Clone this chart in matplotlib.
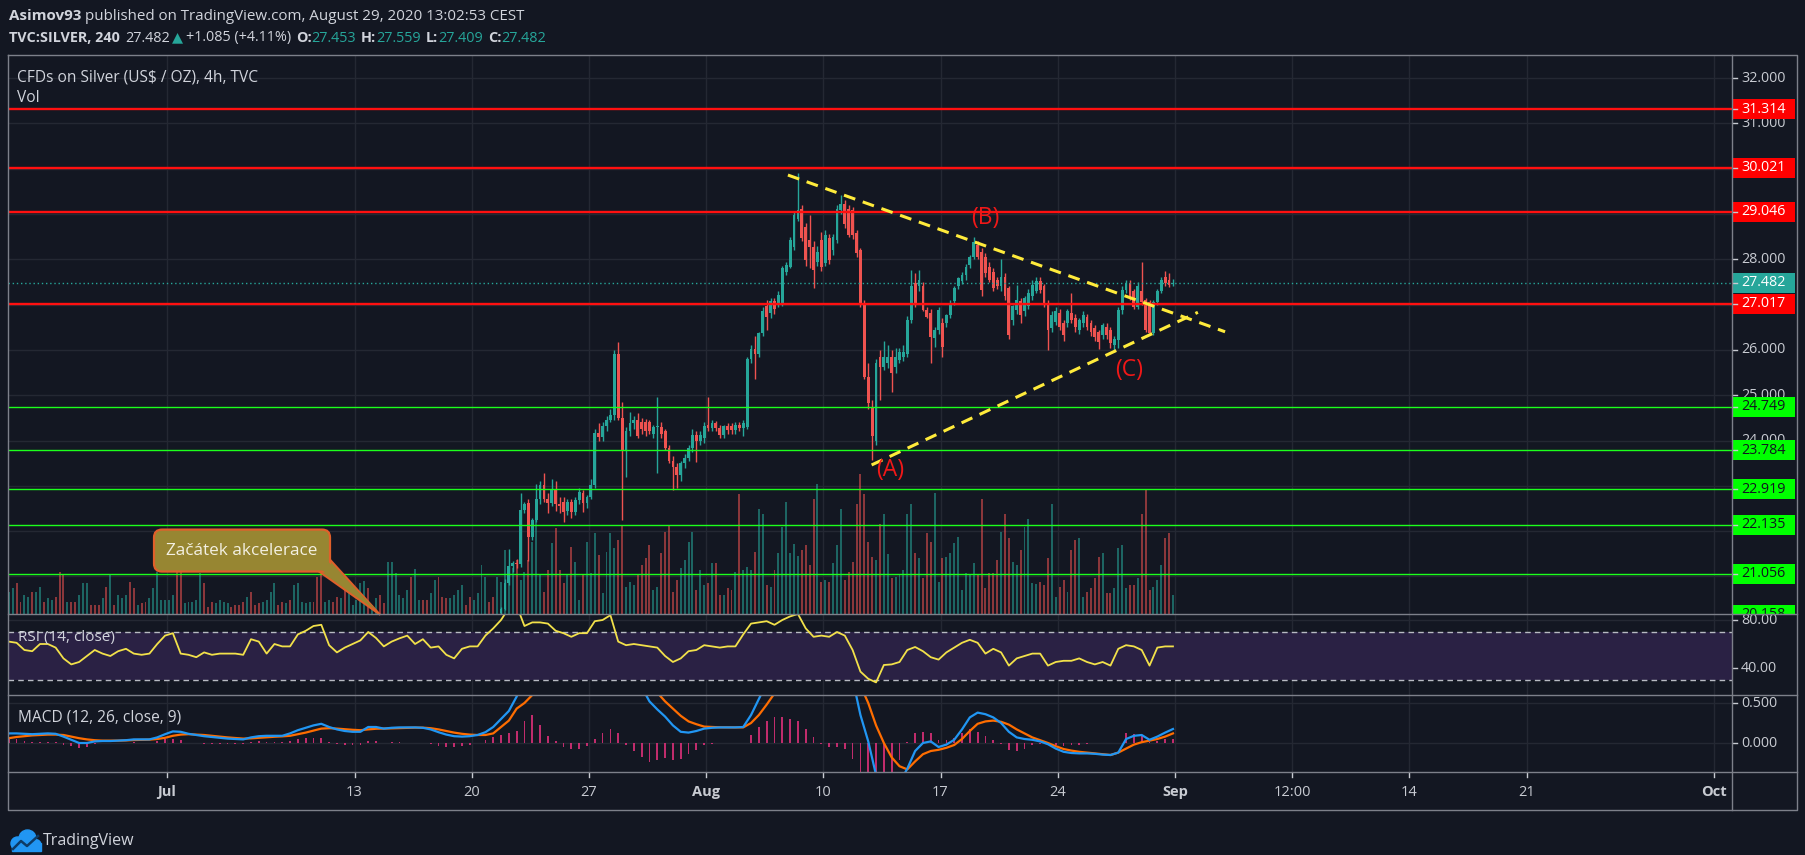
import numpy as np
import matplotlib
matplotlib.use("Agg")
import matplotlib.pyplot as plt
from matplotlib.patches import Rectangle, FancyBboxPatch, Polygon, Circle
from matplotlib.transforms import blended_transform_factory as blend

# ======================= DATA =======================
# time axis (trading-day index, Jul 1 2020 = 0)
week_tick_days = [0, 8, 13, 18, 23, 28, 33, 38, 43, 48, 53, 58, 66]
week_tick_labels = ["Jul", "13", "20", "27", "Aug", "10", "17", "24", "Sep", "12:00", "14", "21", "Oct"]
month_names = ["Jul", "Aug", "Sep", "Oct"]

price_ticks = [21, 22, 23, 24, 25, 26, 27, 28, 29, 30, 31, 32]
resistance_levels = [31.314, 30.021, 29.046, 27.017]
support_levels = [24.749, 23.784, 22.919, 22.135, 21.056, 20.158]
rsi_ticks = [80, 40]
rsi_bands = [70, 30]
macd_ticks = [0.5, 0.0]
change_abs = 1.085
change_pct = 4.11

# 4h bars: 6 per trading day, first bar = 04:00 session of Mon Jun 22 (day -7)
n_bars = 299
first_candle_bar = 126   # earlier candles lie below the visible price range

candle_open = [
    20.20, 20.28, 20.85, 21.22, 21.30, 21.28, 22.47, 22.62, 21.88, 22.25,
    22.70, 23.02, 22.70, 22.62, 22.90, 22.60, 22.65, 22.45, 22.65, 22.43,
    22.69, 22.84, 22.62, 22.76, 23.02, 24.16, 24.08, 24.31, 24.45, 24.56,
    25.92, 24.50, 23.80, 24.20, 24.38, 24.45, 24.40, 24.40, 24.40, 24.15,
    24.30, 24.30, 24.20, 23.83, 23.54, 23.42, 23.24, 23.50, 23.61, 23.83,
    24.12, 23.98, 24.05, 24.34, 24.27, 24.38, 24.27, 24.12, 24.31, 24.31,
    24.23, 24.34, 24.27, 24.30, 25.81, 26.03, 25.92, 26.37, 26.96, 26.81,
    27.07, 27.03, 27.03, 27.73, 27.84, 28.28, 28.90, 29.12, 28.72, 28.43,
    28.28, 27.95, 28.43, 27.91, 28.46, 28.21, 28.43, 29.09, 29.23, 29.12,
    29.09, 28.57, 28.21, 27.03, 25.41, 24.75, 23.98, 25.85, 25.63, 25.70,
    25.85, 25.63, 25.78, 25.85, 25.92, 26.66, 27.47, 27.40, 27.40, 26.88,
    26.81, 26.26, 26.44, 26.59, 26.59, 26.77, 27.07, 27.40, 27.51, 27.65,
    27.87, 28.06, 28.32, 28.17, 28.06, 27.84, 27.73, 27.54, 27.40, 27.62,
    27.36, 26.66, 26.88, 27.07, 26.85, 26.96, 27.18, 27.29, 27.51, 27.40,
    27.03, 26.48, 26.62, 26.81, 26.59, 26.59, 26.81, 26.70, 26.44, 26.59,
    26.73, 26.59, 26.48, 26.40, 26.33, 26.51, 26.44, 26.10, 26.22, 26.88,
    27.32, 27.47, 27.30, 26.95, 27.30, 27.10, 27.05, 26.38, 27.05, 27.30,
    27.62, 27.55, 27.453]
candle_high = [
    20.32, 20.95, 21.60, 21.35, 21.38, 22.85, 22.65, 22.70, 22.30, 23.05,
    23.10, 23.28, 22.85, 23.15, 23.10, 22.75, 22.75, 22.70, 22.70, 22.75,
    22.95, 22.90, 22.80, 23.15, 24.25, 24.38, 24.40, 24.55, 24.70, 26.00,
    26.18, 24.85, 24.30, 24.62, 24.55, 24.60, 24.50, 24.48, 24.45, 24.35,
    24.97, 24.40, 24.25, 23.90, 23.65, 23.50, 23.55, 23.70, 23.90, 24.25,
    24.20, 24.20, 24.40, 24.97, 24.45, 24.42, 24.35, 24.35, 24.38, 24.38,
    24.40, 24.40, 24.45, 25.85, 26.10, 26.30, 26.40, 26.95, 27.10, 27.15,
    27.15, 27.30, 27.85, 27.95, 28.50, 29.05, 29.90, 29.20, 28.80, 28.98,
    28.40, 28.30, 28.60, 28.65, 28.55, 28.55, 29.20, 29.42, 29.31, 29.20,
    29.15, 28.65, 28.25, 27.10, 25.70, 24.90, 25.80, 26.00, 26.20, 26.10,
    26.00, 26.05, 26.05, 26.10, 26.75, 27.76, 27.69, 27.76, 27.50, 26.95,
    26.90, 26.50, 26.95, 26.70, 26.80, 27.10, 27.40, 27.62, 27.73, 27.90,
    28.10, 28.50, 28.40, 28.25, 28.15, 27.95, 27.80, 27.60, 28.00, 27.70,
    27.40, 27.00, 27.43, 27.15, 27.20, 27.35, 27.55, 27.60, 27.60, 27.45,
    27.10, 26.85, 26.95, 26.90, 26.65, 26.90, 27.25, 26.80, 26.70, 26.85,
    26.80, 26.65, 26.55, 26.45, 26.60, 26.60, 26.50, 26.30, 26.95, 27.40,
    27.55, 27.55, 27.35, 27.50, 27.95, 27.15, 27.10, 27.10, 27.35, 27.60,
    27.75, 27.70, 27.559]
candle_low = [
    20.17, 20.25, 20.80, 21.10, 21.18, 21.20, 22.40, 21.33, 21.80, 22.20,
    22.60, 22.65, 22.40, 22.55, 22.45, 22.40, 22.21, 22.35, 22.30, 22.35,
    22.60, 22.43, 22.50, 22.70, 22.95, 24.00, 24.00, 24.20, 24.40, 24.45,
    24.45, 22.25, 23.20, 24.10, 24.25, 24.05, 24.15, 24.10, 24.15, 24.05,
    23.28, 24.05, 23.80, 23.50, 22.90, 22.95, 23.10, 23.40, 23.55, 23.75,
    23.53, 23.90, 23.95, 24.20, 24.20, 24.20, 24.05, 24.05, 24.15, 24.15,
    24.15, 24.20, 24.10, 24.25, 25.70, 25.35, 25.85, 26.30, 26.44, 26.70,
    26.80, 26.95, 26.98, 27.65, 27.80, 28.20, 28.85, 28.40, 27.85, 27.80,
    27.36, 27.85, 27.75, 27.85, 27.90, 28.10, 28.35, 29.00, 28.70, 28.50,
    28.45, 28.05, 26.95, 25.35, 24.70, 23.57, 23.90, 24.90, 25.55, 25.60,
    25.08, 25.50, 25.70, 25.75, 25.85, 26.60, 26.95, 27.30, 26.85, 26.70,
    25.70, 26.07, 26.35, 25.85, 26.50, 26.70, 27.00, 27.35, 27.45, 27.55,
    27.80, 28.00, 28.00, 27.20, 27.60, 27.50, 27.30, 27.35, 27.30, 27.10,
    26.25, 26.55, 26.80, 26.60, 26.75, 26.90, 27.10, 27.25, 27.25, 26.95,
    25.99, 26.40, 26.55, 26.45, 26.20, 26.50, 26.60, 26.40, 26.35, 26.50,
    26.45, 26.30, 26.20, 26.03, 26.25, 26.25, 26.05, 25.95, 26.05, 26.80,
    27.25, 27.10, 26.90, 26.90, 27.00, 26.40, 26.35, 26.33, 27.00, 27.25,
    27.40, 27.38, 27.409]
candle_close = [
    20.28, 20.85, 21.22, 21.30, 21.28, 22.47, 22.60, 21.88, 22.25, 22.70,
    23.02, 22.70, 22.62, 22.90, 22.60, 22.55, 22.43, 22.65, 22.43, 22.69,
    22.86, 22.62, 22.76, 23.02, 24.16, 24.08, 24.31, 24.45, 24.56, 25.92,
    24.50, 23.80, 24.20, 24.38, 24.45, 24.10, 24.25, 24.20, 24.20, 24.30,
    24.32, 24.15, 23.83, 23.54, 23.42, 23.24, 23.50, 23.61, 23.83, 24.12,
    23.98, 24.12, 24.31, 24.27, 24.38, 24.27, 24.12, 24.31, 24.23, 24.23,
    24.34, 24.27, 24.38, 25.81, 26.03, 25.92, 26.37, 26.85, 26.73, 27.07,
    26.90, 27.21, 27.80, 27.87, 28.43, 28.98, 29.09, 28.46, 27.99, 28.28,
    27.76, 28.17, 27.84, 28.54, 27.99, 28.50, 29.12, 29.23, 28.79, 28.54,
    28.54, 28.13, 27.03, 25.41, 24.82, 24.09, 25.70, 25.63, 25.85, 25.85,
    25.48, 25.85, 25.96, 25.96, 26.66, 27.40, 27.03, 27.54, 26.88, 26.73,
    26.29, 26.44, 26.88, 26.07, 26.77, 27.03, 27.36, 27.58, 27.65, 27.84,
    28.06, 28.39, 28.06, 27.32, 27.69, 27.54, 27.36, 27.40, 27.62, 27.18,
    26.33, 26.96, 27.10, 26.77, 27.14, 27.25, 27.43, 27.51, 27.32, 27.03,
    26.44, 26.77, 26.85, 26.51, 26.33, 26.85, 26.66, 26.51, 26.66, 26.77,
    26.51, 26.40, 26.29, 26.18, 26.55, 26.33, 26.15, 26.25, 26.88, 27.32,
    27.47, 27.20, 26.95, 27.40, 27.05, 26.45, 26.38, 27.05, 27.30, 27.55,
    27.47, 27.43, 27.482]

# candle direction (1 up / 0 down) of the bars whose candles are off-scale
hidden_up = [
    1, 1, 0, 0, 1, 1, 0, 1, 1, 0, 1, 1, 0, 0, 0, 1, 0, 0, 1, 1,
    1, 0, 0, 0, 1, 0, 1, 0, 1, 1, 1, 0, 0, 1, 0, 0, 1, 1, 1, 1,
    1, 1, 1, 0, 0, 1, 1, 1, 1, 1, 0, 0, 0, 1, 1, 1, 1, 0, 0, 0,
    0, 1, 0, 0, 0, 1, 1, 1, 1, 0, 0, 1, 0, 1, 1, 1, 1, 1, 0, 0,
    0, 1, 1, 0, 0, 1, 0, 1, 1, 1, 1, 1, 0, 1, 1, 0, 0, 1, 1, 1,
    1, 1, 1, 0, 1, 1, 0, 0, 1, 1, 0, 0, 0, 1, 1, 1, 1, 0, 0, 1,
    1, 1, 1, 0, 0, 1]

volume = [
    22, 26, 31, 12, 19, 17, 22, 22, 27, 12, 16, 14, 17, 42, 39, 12, 12, 12, 19, 31,
    31, 9, 9, 9, 16, 27, 39, 9, 19, 16, 19, 32, 26, 9, 11, 12, 16, 26, 42, 14,
    14, 14, 19, 57, 51, 11, 12, 12, 14, 41, 31, 7, 12, 11, 14, 12, 11, 7, 9, 9,
    12, 17, 22, 9, 11, 12, 14, 22, 31, 9, 12, 11, 14, 29, 31, 12, 11, 12, 12, 37,
    39, 12, 14, 12, 17, 16, 27, 29, 9, 14, 31, 33, 26, 9, 16, 19, 11, 52, 52, 41,
    19, 16, 24, 37, 45, 14, 14, 14, 21, 34, 37, 17, 16, 16, 19, 24, 29, 9, 17, 14,
    21, 49, 37, 12, 17, 37, 32, 64, 47, 46, 54, 34, 42, 54, 72, 110, 39, 22, 44, 71,
    86, 44, 31, 39, 67, 52, 14, 39, 72, 41, 81, 59, 21, 62, 81, 66, 74, 89, 27, 32,
    29, 39, 49, 56, 69, 24, 27, 61, 82, 89, 22, 34, 46, 54, 72, 82, 24, 44, 29, 31,
    51, 51, 19, 19, 26, 24, 42, 120, 44, 47, 44, 62, 105, 100, 29, 27, 44, 61, 87, 112,
    61, 70, 58, 64, 69, 49, 115, 130, 32, 34, 32, 51, 69, 105, 34, 42, 52, 110, 140, 120,
    72, 57, 54, 90, 100, 60, 36, 37, 39, 44, 100, 110, 61, 56, 36, 81, 72, 121, 32, 56,
    57, 61, 71, 77, 24, 41, 39, 51, 39, 115, 26, 41, 41, 54, 82, 100, 76, 52, 49, 64,
    87, 95, 31, 30, 32, 29, 56, 110, 17, 27, 34, 22, 64, 74, 76, 17, 22, 26, 36, 57,
    61, 21, 21, 26, 66, 69, 26, 29, 29, 36, 100, 125, 24, 27, 34, 49, 76, 81, 19]

# indicators read every second bar (bars 0, 2, 4, ... 298)
rsi = [
    62, 61, 55, 54, 60, 60, 57, 48, 43, 45, 50, 55, 52, 50, 54, 56, 52, 51, 52, 60,
    67, 69, 52, 51, 49, 53, 51, 52, 52, 52, 51, 64, 62, 52, 60, 58, 58, 68, 71, 75,
    76, 59, 53, 57, 60, 63, 70, 65, 58, 62, 64.7,
    67, 60, 64, 57, 58, 51, 48, 56, 58, 58, 67, 73, 80, 90, 92, 75, 78, 78, 77, 71,
    69, 66, 69, 69, 79, 80, 84, 62, 59, 60, 59, 58, 57, 50, 45, 48, 54, 55, 59, 58,
    57, 58, 58, 68, 77, 78, 79, 76, 80, 83, 85,
    73, 66, 67, 66, 70, 67, 55, 37, 31, 28, 42.5, 43, 45, 55, 57.5, 54, 49, 47, 53, 57,
    61, 63.5, 61, 52, 56, 53, 42, 48, 50, 52, 52, 42, 45, 46, 46, 48, 45, 43, 45, 42,
    56, 59, 58, 55, 42, 57, 58, 58]
macd = [
    0.12, 0.12, 0.115, 0.11, 0.115, 0.12, 0.115, 0.08, 0.04, 0.0,
    0.0, 0.02, 0.025, 0.025, 0.03, 0.035, 0.045, 0.045, 0.045, 0.07,
    0.11, 0.145, 0.14, 0.115, 0.10, 0.085, 0.075, 0.065, 0.055, 0.05,
    0.045, 0.07, 0.085, 0.09, 0.09, 0.09, 0.12, 0.16, 0.19, 0.22,
    0.24, 0.20, 0.17, 0.15, 0.14, 0.14, 0.20, 0.20, 0.18, 0.19, 0.195,
    0.195, 0.195, 0.19, 0.17, 0.135, 0.105, 0.085, 0.08, 0.085, 0.10,
    0.135, 0.20, 0.30, 0.40, 0.58, 0.78, 0.95, 1.00, 0.95, 0.92,
    0.85, 0.80, 0.79, 0.82, 0.92, 1.02, 1.12, 1.12, 0.98, 0.85,
    0.70, 0.52, 0.42, 0.33, 0.22, 0.14, 0.13, 0.15, 0.18, 0.19,
    0.195, 0.195, 0.195, 0.20, 0.35, 0.55, 0.75, 0.95, 1.10, 1.25, 1.35,
    1.30, 1.22, 1.15, 1.10, 1.08, 1.02, 0.80, 0.35, 0.02, -0.40,
    -0.60, -0.65, -0.50, -0.32, -0.10, 0.0, 0.02, -0.05, -0.02, 0.04,
    0.17, 0.32, 0.38, 0.36, 0.32, 0.25, 0.14, 0.07, 0.05, 0.04,
    0.02, -0.015, -0.07, -0.11, -0.125, -0.13, -0.13, -0.135, -0.145, -0.15,
    -0.12, 0.05, 0.09, 0.10, 0.04, 0.08, 0.13, 0.175]
macd_signal = [
    0.06, 0.075, 0.085, 0.095, 0.10, 0.105, 0.105, 0.10, 0.08, 0.06,
    0.045, 0.035, 0.03, 0.03, 0.03, 0.032, 0.037, 0.04, 0.042, 0.05,
    0.065, 0.09, 0.105, 0.11, 0.105, 0.10, 0.09, 0.08, 0.07, 0.062,
    0.055, 0.058, 0.065, 0.072, 0.078, 0.083, 0.09, 0.11, 0.13, 0.155,
    0.18, 0.185, 0.18, 0.172, 0.165, 0.16, 0.17, 0.178, 0.18, 0.183, 0.186,
    0.19, 0.192, 0.192, 0.185, 0.17, 0.15, 0.13, 0.115, 0.105, 0.10,
    0.10, 0.12, 0.20, 0.28, 0.43, 0.50, 0.60, 0.78, 0.86, 0.90,
    0.90, 0.88, 0.87, 0.86, 0.87, 0.90, 0.95, 1.00, 1.00, 0.95,
    0.87, 0.76, 0.63, 0.52, 0.43, 0.34, 0.27, 0.235, 0.205, 0.20,
    0.196, 0.195, 0.195, 0.195, 0.25, 0.35, 0.48, 0.62, 0.78, 0.95, 1.08,
    1.12, 1.15, 1.16, 1.15, 1.13, 1.10, 1.00, 0.72, 0.50, 0.22,
    0.0, -0.18, -0.29, -0.33, -0.23, -0.14, -0.10, -0.085, -0.06, -0.025,
    0.05, 0.15, 0.24, 0.27, 0.28, 0.265, 0.23, 0.17, 0.12, 0.07,
    0.035, 0.0, -0.04, -0.075, -0.095, -0.11, -0.12, -0.13, -0.14, -0.15,
    -0.12, -0.07, -0.02, 0.01, 0.03, 0.05, 0.08, 0.12]

# drawings (trading-day, price)
upper_trend_days, upper_trend_prices = [26.49, 45.14], [29.86, 26.40]
lower_trend_days, lower_trend_prices = [30.06, 43.98], [23.46, 26.83]
wave_labels = ["(A)", "(B)", "(C)"]
wave_days = [30.84, 34.90, 41.04]
wave_prices = [23.35, 28.91, 25.56]
callout_text = "Začátek akcelerace"
callout_box_at = (3.2, 21.57)
callout_tip_at = (9.1, 20.15)

assert len(candle_open) == len(candle_high) == len(candle_low) == len(candle_close) == n_bars - first_candle_bar
assert len(hidden_up) == first_candle_bar and len(volume) == n_bars
assert len(rsi) == len(macd) == len(macd_signal) == n_bars // 2 + 1

# ======================= STYLE / LAYOUT =======================
W, H = 1805, 855
BG = "#131722"
GRID = "#242833"
FRAME = "#7d808a"
TXT = "#d1d4dc"
AXT = "#c8cbd2"
UP = "#26a69a"
DN = "#ef5350"
RED_LVL = "#ff1010"
GRN_LVL = "#1cff1c"
plt.rcParams["font.family"] = ["Open Sans", "DejaVu Sans"]

fig = plt.figure(figsize=(W / 100, H / 100), dpi=100, facecolor=BG)


def frect(x0, y0, x1, y1):
    return [x0 / W, 1 - y1 / H, (x1 - x0) / W, (y1 - y0) / H]


def clean(ax):
    ax.set_xticks([])
    ax.set_yticks([])
    for s in ax.spines.values():
        s.set_visible(False)


XL, XR, XS = 8, 1732, 1797
YT, YR, YM, YX, YB = 55, 614, 695, 772, 810
DAY0_PX, DAY_PX = 167.0, 23.44
xlim = ((XL - DAY0_PX) / DAY_PX, (XR - DAY0_PX) / DAY_PX)
main_ylim = (20.17, 32.51)
rsi_ylim = (17.5, 85.0)
macd_ylim = (-0.3625, 0.6)

bar_t = -7 + (np.arange(n_bars) + 1.5) / 6.0
o = np.array(candle_open); h = np.array(candle_high)
l = np.array(candle_low); c = np.array(candle_close)
h = np.maximum(h, np.maximum(o, c)); l = np.minimum(l, np.minimum(o, c))
cand_t = bar_t[first_candle_bar:]
cand_up = c >= o
all_up = np.concatenate([np.array(hidden_up, bool), cand_up])

# ---------- volume (underneath) + main pane ----------
ax_vol = fig.add_axes(frect(XL, YT, XR, YR))
ax_main = fig.add_axes(frect(XL, YT, XR, YR))
for ax in (ax_vol, ax_main):
    clean(ax)
    ax.set_xlim(*xlim)
ax_vol.set_facecolor(BG)
ax_main.patch.set_visible(False)
ax_main.set_ylim(*main_ylim)
vol = np.array(volume, float)
ax_vol.set_ylim(0, vol.max() / 0.25)

for d in week_tick_days:
    ax_vol.axvline(d, color=GRID, lw=1, zorder=0)
for p in price_ticks:
    ax_vol.plot([0, 1], [p, p], transform=blend(ax_vol.transAxes, ax_main.transData),
                color=GRID, lw=1, zorder=0)
ax_vol.bar(bar_t, vol, width=0.5 / 6, color=np.where(all_up, UP, DN), alpha=0.55, lw=0, zorder=1)

cols = np.where(cand_up, UP, DN)
ax_main.vlines(cand_t, l, h, colors=cols, lw=1.0, zorder=2)
ax_main.bar(cand_t, np.maximum(np.abs(c - o), 0.015), bottom=np.minimum(o, c),
            width=0.72 / 6, color=cols, lw=0, zorder=3)

for p in resistance_levels:
    ax_main.axhline(p, color=RED_LVL, lw=1.7, zorder=5)
for p in support_levels:
    ax_main.axhline(p, color=GRN_LVL, lw=1.0, zorder=5)
ax_main.axhline(c[-1], color=UP, lw=1.0, ls=(0, (1, 2)), zorder=4)

ax_main.plot(upper_trend_days, upper_trend_prices, color="#ffeb3b", lw=2.2,
             dashes=(3.9, 2.6), zorder=6)
ax_main.plot(lower_trend_days, lower_trend_prices, color="#ffeb3b", lw=2.2,
             dashes=(3.9, 2.6), zorder=6)
for s, d, p in zip(wave_labels, wave_days, wave_prices):
    ax_main.text(d, p, s, color="#f01818", fontsize=16.5, ha="center", va="center", zorder=7)

# ---------- RSI pane ----------
ax_rsi = fig.add_axes(frect(XL, YR, XR, YM))
clean(ax_rsi)
ax_rsi.set_facecolor(BG)
ax_rsi.set_xlim(*xlim)
ax_rsi.set_ylim(*rsi_ylim)
for d in week_tick_days:
    ax_rsi.axvline(d, color=GRID, lw=1, zorder=0)
for v in rsi_ticks:
    ax_rsi.axhline(v, color=GRID, lw=1, zorder=0)
ax_rsi.axhspan(rsi_bands[1], rsi_bands[0], color="#2a2144", lw=0, zorder=0.5)
for v in rsi_bands:
    ax_rsi.axhline(v, color="#b8bbc3", lw=1.0, ls=(0, (4, 3)), zorder=1)
samp_t = bar_t[::2]
ax_rsi.plot(samp_t, rsi, color="#f2e14a", lw=1.3, zorder=3)

# ---------- MACD pane ----------
ax_macd = fig.add_axes(frect(XL, YM, XR, YX))
clean(ax_macd)
ax_macd.set_facecolor(BG)
ax_macd.set_xlim(*xlim)
ax_macd.set_ylim(*macd_ylim)
for d in week_tick_days:
    ax_macd.axvline(d, color=GRID, lw=1, zorder=0)
for v in macd_ticks:
    ax_macd.axhline(v, color=GRID, lw=1, zorder=0)
m = np.array(macd); sg = np.array(macd_signal)
ax_macd.bar(samp_t, m - sg, width=0.075, color="#e0307a", alpha=0.85, lw=0, zorder=1)
ax_macd.plot(samp_t, m, color="#2196f3", lw=1.6, zorder=3)
ax_macd.plot(samp_t, sg, color="#ff6d00", lw=1.6, zorder=2)

# ---------- time axis ----------
ax_time = fig.add_axes(frect(XL, YX, XR, YB))
clean(ax_time)
ax_time.set_facecolor(BG)
ax_time.set_xlim(*xlim)
ax_time.set_ylim(0, 1)
for d, s in zip(week_tick_days, week_tick_labels):
    ax_time.plot([d, d], [1, 0.86], color=AXT, lw=1)
    ax_time.text(d, 0.47, s, color=AXT, fontsize=10.5, ha="center", va="center",
                 fontweight="bold" if s in month_names else "normal")

# ---------- price scales ----------
def price_scale(y0, y1, ylim, ticks, fmt, labels):
    ax = fig.add_axes(frect(XR, y0, XS, y1))
    clean(ax)
    ax.set_facecolor(BG)
    ax.set_xlim(0, 1)
    ax.set_ylim(*ylim)
    unit = (ylim[1] - ylim[0]) / (y1 - y0)
    lvl = [v for v, _, _ in labels]
    for v in ticks:
        # a tick label mostly covered by a level label is not shown
        if any(abs(v - q) < 9 * unit for q in lvl):
            continue
        ax.text(0.14, v, fmt.format(v), color=AXT, fontsize=10.3, ha="left", va="center",
                clip_on=True, zorder=2)
        ax.plot([0, 0.08], [v, v], color=AXT, lw=1, zorder=2)
    for v, fc, tc in labels:
        ax.add_patch(Rectangle((0, v - 10 * unit), 0.97, 20 * unit, facecolor=fc,
                               edgecolor="none", zorder=3))
        ax.text(0.14, v, fmt.format(v), color=tc, fontsize=10.3, ha="left", va="center",
                clip_on=True, zorder=4)
        ax.plot([0, 0.08], [v, v], color=AXT, lw=1, zorder=4)
    return ax


lbls = [(v, "#ff0000", "white") for v in resistance_levels]
lbls += [(v, "#00ff00", "#10161f") for v in support_levels]
lbls += [(c[-1], UP, "white")]
price_scale(YT, YR, main_ylim, price_ticks, "{:.3f}", lbls)
price_scale(YR, YM, rsi_ylim, rsi_ticks, "{:.2f}", [])
price_scale(YM, YX, macd_ylim, macd_ticks, "{:.3f}", [])

# ---------- overlay: frames, texts, callout, logo ----------
ov = fig.add_axes([0, 0, 1, 1], zorder=20)
ov.set_xlim(0, W)
ov.set_ylim(H, 0)
ov.axis("off")
fk = dict(color=FRAME, lw=1.0)
ov.plot([XL, XS, XS, XL, XL], [YT, YT, YB, YB, YT], **fk)
for y in (YR, YM, YX):
    ov.plot([XL, XS], [y, y], **fk)
ov.plot([XR, XR], [YT, YB], **fk)

renderer = fig.canvas.get_renderer()


def pieces(x, y, items, size):
    for s, col, wt, gap in items:
        t = ov.text(x, y, s, color=col, fontsize=size, fontweight=wt, ha="left", va="center")
        x += t.get_window_extent(renderer=renderer).width + gap


pieces(9, 16, [("Asimov93", TXT, "bold", 4),
               ("published on TradingView.com, August 29, 2020 13:02:53 CEST", TXT, "normal", 0)], 10.9)
pieces(9, 38, [("TVC:SILVER, 240", TXT, "bold", 5),
               (f"{c[-1]:.3f}", TXT, "normal", 2),
               ("\u25B2", UP, "normal", 3),
               (f"+{change_abs:.3f} (+{change_pct:.2f}%)", TXT, "normal", 5),
               ("O:", TXT, "bold", 0), (f"{o[-1]:.3f}", UP, "normal", 5),
               ("H:", TXT, "bold", 0), (f"{h[-1]:.3f}", UP, "normal", 5),
               ("L:", TXT, "bold", 0), (f"{l[-1]:.3f}", UP, "normal", 5),
               ("C:", TXT, "bold", 0), (f"{c[-1]:.3f}", UP, "normal", 0)], 10.35)
ov.text(17, 77, "CFDs on Silver (US$ / OZ), 4h, TVC", color=TXT, fontsize=11.2, ha="left", va="center")
ov.text(17, 98, "Vol", color=TXT, fontsize=11.2, ha="left", va="center")
ov.text(18, 637, "RSI (14, close)", color=TXT, fontsize=11, ha="left", va="center")
ov.text(18, 717, "MACD (12, 26, close, 9)", color=TXT, fontsize=11.2, ha="left", va="center")


def to_px(ax, x, y):
    dx, dy = ax.transData.transform((x, y))
    return dx, H - dy


cx, cy = to_px(ax_main, *callout_box_at)
tx, ty = to_px(ax_main, *callout_tip_at)
bw, bh = 176, 42
bx0, by0, bx1, by1 = cx - bw / 2, cy - bh / 2, cx + bw / 2, cy + bh / 2
FILL, EDGE = "#978632", "#e0602a"
ov.add_patch(Polygon([(bx1 - 11, by1), (tx, ty), (bx1, by1 - 12)], closed=True,
                     facecolor=FILL, edgecolor=EDGE, lw=1.4, zorder=1))
ov.add_patch(FancyBboxPatch((bx0, by0), bw, bh, boxstyle="round,pad=0,rounding_size=8",
                            facecolor=FILL, edgecolor=EDGE, lw=1.6, zorder=2))
ov.add_patch(Polygon([(bx1 - 9.5, by1 - 2.5), (tx - 4, ty - 5), (bx1 - 2.5, by1 - 10.5)],
                     closed=True, facecolor=FILL, edgecolor="none", zorder=3))
ov.text(cx, cy, callout_text, color="#f3f0e2", fontsize=12.3, ha="center", va="center", zorder=4)

# logo
LB = "#2196f3"
for (x, y, r) in [(17.5, 843.5, 6.5), (27.5, 838.5, 8.5), (35.5, 845, 5.5)]:
    ov.add_patch(Circle((x, y), r, color=LB, zorder=1))
ov.add_patch(Rectangle((11.5, 843), 29.5, 7.5, color=LB, zorder=1))
ov.plot([13, 21, 27, 38], [849, 841, 846, 836], color="#0d3b66", lw=1.8, zorder=2)
ov.text(43, 841, "TradingView", color=TXT, fontsize=11.5, ha="left", va="center")

fig.savefig("out.png", dpi=100, facecolor=BG)
